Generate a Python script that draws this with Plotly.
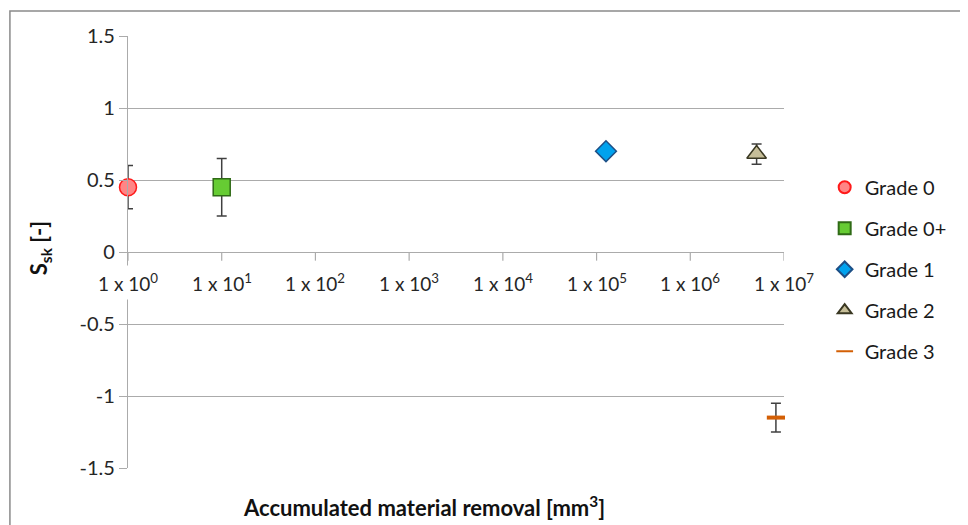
import plotly.graph_objects as go

# data
grades = ["Grade 0", "Grade 0+", "Grade 1", "Grade 2", "Grade 3"]
removal_mm3 = [1.0, 10.0, 1.26e5, 5.1e6, 8.2e6]
ssk_mean = [0.45, 0.45, 0.70, 0.68, -1.15]
ssk_err = [0.15, 0.20, None, 0.07, 0.10]
decades = [0, 1, 2, 3, 4, 5, 6, 7]
y_ticks = [-1.5, -1, -0.5, 0, 0.5, 1, 1.5]

symbols = ["circle", "square", "diamond", "triangle-up", "line-ew"]
fills = ["#ff8585", "#66cc33", "#00a2ee", "#c6be98", "#e46c0a"]
edges = ["#ff1a1a", "#2f6a16", "#1d4f86", "#3a3822", "#d35f05"]
sizes = [17, 17, 16, 17, 13]

FONT = "Lato, 'Open Sans', sans-serif"
GRID = "#ababab"
TXT = "#262626"

fig = go.Figure()
for i, name in enumerate(grades):
    err = ssk_err[i]
    line_w = 4 if symbols[i] == "line-ew" else 1.5
    fig.add_trace(
        go.Scatter(
            x=[removal_mm3[i]],
            y=[ssk_mean[i]],
            mode="markers",
            name=name,
            legendgroup=name,
            cliponaxis=False,
            marker=dict(
                symbol=symbols[i],
                size=sizes[i],
                color=fills[i],
                line=dict(color=edges[i], width=line_w),
            ),
            error_y=dict(
                type="data",
                array=[err],
                visible=err is not None,
                color="#404040",
                thickness=1.5,
                width=5,
            ),
        )
    )

# x axis crosses at y = 0: ticks and labels drawn by hand
shapes = []
for d in decades:
    shapes.append(
        dict(type="line", xref="x", yref="y", x0=10**d, x1=10**d, y0=0, y1=-0.06,
             line=dict(color=GRID, width=1.2))
    )
# outer chart frame (only top and left edges fall inside the picture)
shapes.append(
    dict(type="rect", xref="paper", yref="paper", x0=-0.18, x1=1.4, y0=-0.3, y1=1.058,
         line=dict(color="#8a8a8a", width=1.5), layer="below")
)

annotations = []
for d in decades:
    annotations.append(
        dict(x=d, y=-0.21, xref="x", yref="y", text=f"1 x 10<sup>{d}</sup>",
             showarrow=False, bgcolor="white", borderpad=4,
             xanchor="center", yanchor="middle",
             font=dict(family=FONT, size=19, color=TXT))
    )
annotations.append(
    dict(x=0.451, y=-0.09, xref="paper", yref="paper",
         xanchor="center", yanchor="middle",
         text="<b>Accumulated material removal [mm<sup>3</sup>]</b>",
         showarrow=False, font=dict(family=FONT, size=22, color="#111111"))
)
annotations.append(
    dict(x=-0.134, y=0.509, xref="paper", yref="paper", textangle=-90,
         xanchor="center", yanchor="middle",
         text="<b>S<sub>sk</sub> [-]</b>",
         showarrow=False, font=dict(family=FONT, size=22, color="#111111"))
)

fig.update_layout(
    width=968,
    height=525,
    paper_bgcolor="white",
    plot_bgcolor="white",
    # page body adds an 8 px offset, compensated here
    margin=dict(l=120, r=192, t=28, b=65),
    font=dict(family=FONT, size=19, color=TXT),
    xaxis=dict(
        type="log",
        range=[0, 7],
        showgrid=False,
        showticklabels=False,
        showline=False,
        zeroline=False,
        ticks="",
    ),
    yaxis=dict(
        range=[-1.5, 1.5],
        tickmode="array",
        tickvals=y_ticks,
        ticktext=[f"{v:g}" for v in y_ticks],
        showgrid=True,
        gridcolor=GRID,
        gridwidth=1.2,
        zeroline=True,
        zerolinecolor=GRID,
        zerolinewidth=1.2,
        showline=True,
        linecolor=GRID,
        linewidth=1.2,
        ticks="outside",
        ticklen=8,
        tickcolor=GRID,
        tickwidth=1.2,
        tickfont=dict(size=20, color=TXT),
    ),
    legend=dict(
        x=1.062,
        y=0.695,
        xanchor="left",
        yanchor="top",
        traceorder="grouped",
        tracegroupgap=12,
        itemsizing="constant",
        font=dict(family=FONT, size=20, color="#1a1a1a"),
        bgcolor="rgba(0,0,0,0)",
    ),
    shapes=shapes,
    annotations=annotations,
)

fig.write_html("out.html")
